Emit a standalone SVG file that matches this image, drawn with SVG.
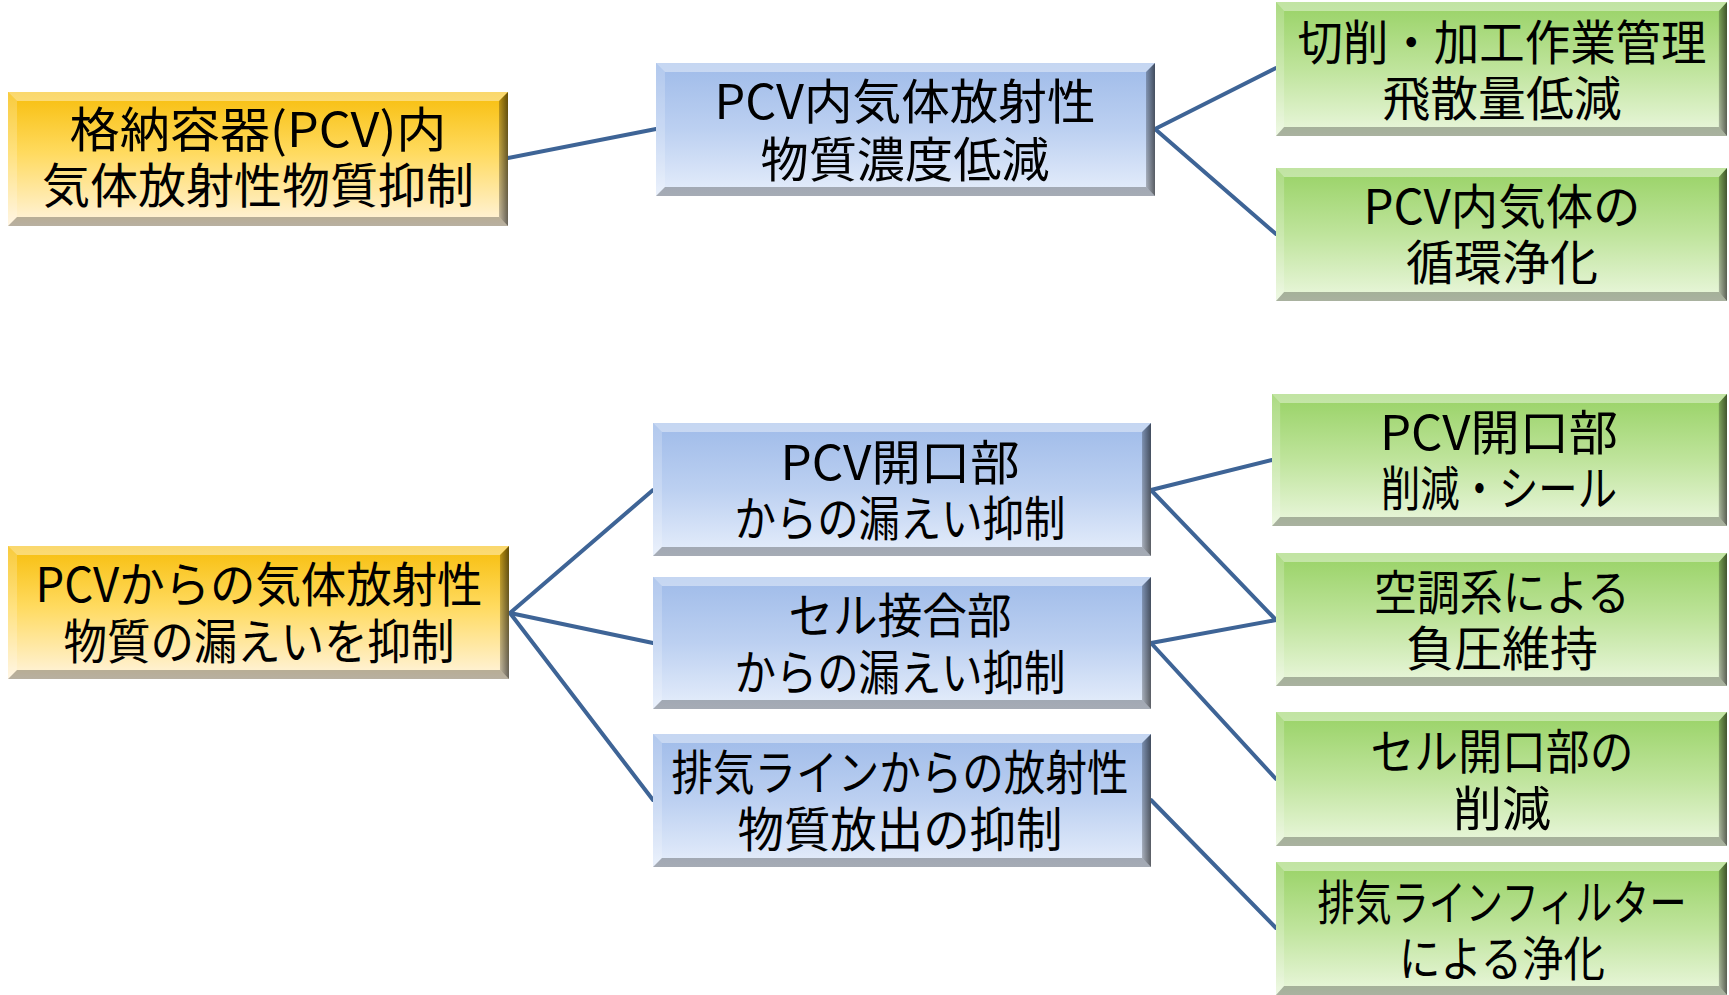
<svg xmlns="http://www.w3.org/2000/svg" xmlns:xlink="http://www.w3.org/1999/xlink" width="1729" height="995" viewBox="0 0 1729 995">
<style>
  .t { font-family: "Noto Sans CJK JP", "Noto Sans", sans-serif; font-size: 48px; fill: #000; text-anchor: middle; dominant-baseline: central; }
  .c { stroke: #3E6496; stroke-width: 4; fill: none; stroke-linecap: round; }
</style>
<defs>
  <linearGradient id="gY" x1="0" y1="0" x2="0" y2="1">
    <stop offset="0" stop-color="#F7BE0C"/>
    <stop offset="0.45" stop-color="#FFDA5E"/>
    <stop offset="1" stop-color="#FFF4DF"/>
  </linearGradient>
  <linearGradient id="gB" x1="0" y1="0" x2="0" y2="1">
    <stop offset="0" stop-color="#9FBBE9"/>
    <stop offset="0.5" stop-color="#BCD0F1"/>
    <stop offset="1" stop-color="#E6EEFB"/>
  </linearGradient>
  <linearGradient id="gG" x1="0" y1="0" x2="0" y2="1">
    <stop offset="0" stop-color="#98D265"/>
    <stop offset="0.5" stop-color="#BFE49C"/>
    <stop offset="1" stop-color="#EBF7DE"/>
  </linearGradient>
  <linearGradient id="gR" x1="0" y1="0" x2="1" y2="0">
    <stop offset="0" stop-color="#000" stop-opacity="0.25"/>
    <stop offset="1" stop-color="#000" stop-opacity="0.6"/>
  </linearGradient>
  <symbol id="bevel" viewBox="0 0 500 133" preserveAspectRatio="none">
    <polygon points="0,0 500,0 491,9 9,9" fill="#fff" fill-opacity="0.4"/>
    <polygon points="0,0 9,9 9,124 0,133" fill="#fff" fill-opacity="0.2"/>
    <polygon points="500,0 500,133 491,124 491,9" fill="url(#gR)"/>
    <polygon points="0,133 500,133 491,124 9,124" fill="#000" fill-opacity="0.28"/>
  </symbol>
</defs>

<g id="connectors">
  <line class="c" x1="508" y1="158" x2="656" y2="129"/>
  <line class="c" x1="1155" y1="129" x2="1276" y2="68"/>
  <line class="c" x1="1155" y1="129" x2="1276" y2="234"/>
  <line class="c" x1="510" y1="613" x2="653" y2="490"/>
  <line class="c" x1="510" y1="613" x2="653" y2="643"/>
  <line class="c" x1="510" y1="613" x2="653" y2="800"/>
  <line class="c" x1="1151" y1="490" x2="1272" y2="460"/>
  <line class="c" x1="1151" y1="490" x2="1276" y2="620"/>
  <line class="c" x1="1151" y1="643" x2="1276" y2="620"/>
  <line class="c" x1="1151" y1="643" x2="1276" y2="779"/>
  <line class="c" x1="1151" y1="800" x2="1276" y2="928"/>
</g>

<g id="n-y1">
  <rect x="8" y="92" width="500" height="134" fill="url(#gY)"/>
  <use xlink:href="#bevel" x="8" y="92" width="500" height="134"/>
  <text class="t" x="258" y="126" textLength="377" lengthAdjust="spacingAndGlyphs">格納容器(PCV)内</text>
  <text class="t" x="258" y="182" textLength="432" lengthAdjust="spacingAndGlyphs">気体放射性物質抑制</text>
</g>

<g id="n-b1">
  <rect x="656" y="63" width="499" height="133" fill="url(#gB)"/>
  <use xlink:href="#bevel" x="656" y="63" width="499" height="133"/>
  <text class="t" x="905" y="98" textLength="381" lengthAdjust="spacingAndGlyphs">PCV内気体放射性</text>
  <text class="t" x="905" y="156" textLength="289" lengthAdjust="spacingAndGlyphs">物質濃度低減</text>
</g>

<g id="n-g1">
  <rect x="1276" y="2" width="451" height="134" fill="url(#gG)"/>
  <use xlink:href="#bevel" x="1276" y="2" width="451" height="134"/>
  <text class="t" x="1502" y="39" textLength="409" lengthAdjust="spacingAndGlyphs">切削・加工作業管理</text>
  <text class="t" x="1502" y="95" textLength="239" lengthAdjust="spacingAndGlyphs">飛散量低減</text>
</g>

<g id="n-g2">
  <rect x="1276" y="168" width="451" height="133" fill="url(#gG)"/>
  <use xlink:href="#bevel" x="1276" y="168" width="451" height="133"/>
  <text class="t" x="1502" y="203" textLength="277" lengthAdjust="spacingAndGlyphs">PCV内気体の</text>
  <text class="t" x="1502" y="259" textLength="192" lengthAdjust="spacingAndGlyphs">循環浄化</text>
</g>

<g id="n-y2">
  <rect x="8" y="546" width="501" height="133" fill="url(#gY)"/>
  <use xlink:href="#bevel" x="8" y="546" width="501" height="133"/>
  <text class="t" x="259" y="581" textLength="447" lengthAdjust="spacingAndGlyphs">PCVからの気体放射性</text>
  <text class="t" x="259" y="638" textLength="391" lengthAdjust="spacingAndGlyphs">物質の漏えいを抑制</text>
</g>

<g id="n-b2">
  <rect x="653" y="423" width="498" height="133" fill="url(#gB)"/>
  <use xlink:href="#bevel" x="653" y="423" width="498" height="133"/>
  <text class="t" x="900" y="459" textLength="239" lengthAdjust="spacingAndGlyphs">PCV開口部</text>
  <text class="t" x="900" y="515" textLength="331" lengthAdjust="spacingAndGlyphs">からの漏えい抑制</text>
</g>

<g id="n-b3">
  <rect x="653" y="577" width="498" height="132" fill="url(#gB)"/>
  <use xlink:href="#bevel" x="653" y="577" width="498" height="132"/>
  <text class="t" x="900" y="612" textLength="223" lengthAdjust="spacingAndGlyphs">セル接合部</text>
  <text class="t" x="900" y="669" textLength="331" lengthAdjust="spacingAndGlyphs">からの漏えい抑制</text>
</g>

<g id="n-b4">
  <rect x="653" y="734" width="498" height="133" fill="url(#gB)"/>
  <use xlink:href="#bevel" x="653" y="734" width="498" height="133"/>
  <text class="t" x="900" y="769" textLength="457" lengthAdjust="spacingAndGlyphs">排気ラインからの放射性</text>
  <text class="t" x="900" y="826" textLength="325" lengthAdjust="spacingAndGlyphs">物質放出の抑制</text>
</g>

<g id="n-g3">
  <rect x="1272" y="394" width="455" height="132" fill="url(#gG)"/>
  <use xlink:href="#bevel" x="1272" y="394" width="455" height="132"/>
  <text class="t" x="1499" y="429" textLength="238" lengthAdjust="spacingAndGlyphs">PCV開口部</text>
  <text class="t" x="1499" y="485" textLength="236" lengthAdjust="spacingAndGlyphs">削減・シール</text>
</g>

<g id="n-g4">
  <rect x="1276" y="553" width="451" height="133" fill="url(#gG)"/>
  <use xlink:href="#bevel" x="1276" y="553" width="451" height="133"/>
  <text class="t" x="1502" y="589" textLength="256" lengthAdjust="spacingAndGlyphs">空調系による</text>
  <text class="t" x="1502" y="645" textLength="192" lengthAdjust="spacingAndGlyphs">負圧維持</text>
</g>

<g id="n-g5">
  <rect x="1276" y="712" width="451" height="134" fill="url(#gG)"/>
  <use xlink:href="#bevel" x="1276" y="712" width="451" height="134"/>
  <text class="t" x="1502" y="748" textLength="263" lengthAdjust="spacingAndGlyphs">セル開口部の</text>
  <text class="t" x="1502" y="805" textLength="98" lengthAdjust="spacingAndGlyphs">削減</text>
</g>

<g id="n-g6">
  <rect x="1276" y="862" width="451" height="133" fill="url(#gG)"/>
  <use xlink:href="#bevel" x="1276" y="862" width="451" height="133"/>
  <text class="t" x="1502" y="899" textLength="369" lengthAdjust="spacingAndGlyphs">排気ラインフィルター</text>
  <text class="t" x="1502" y="955" textLength="206" lengthAdjust="spacingAndGlyphs">による浄化</text>
</g>
</svg>
